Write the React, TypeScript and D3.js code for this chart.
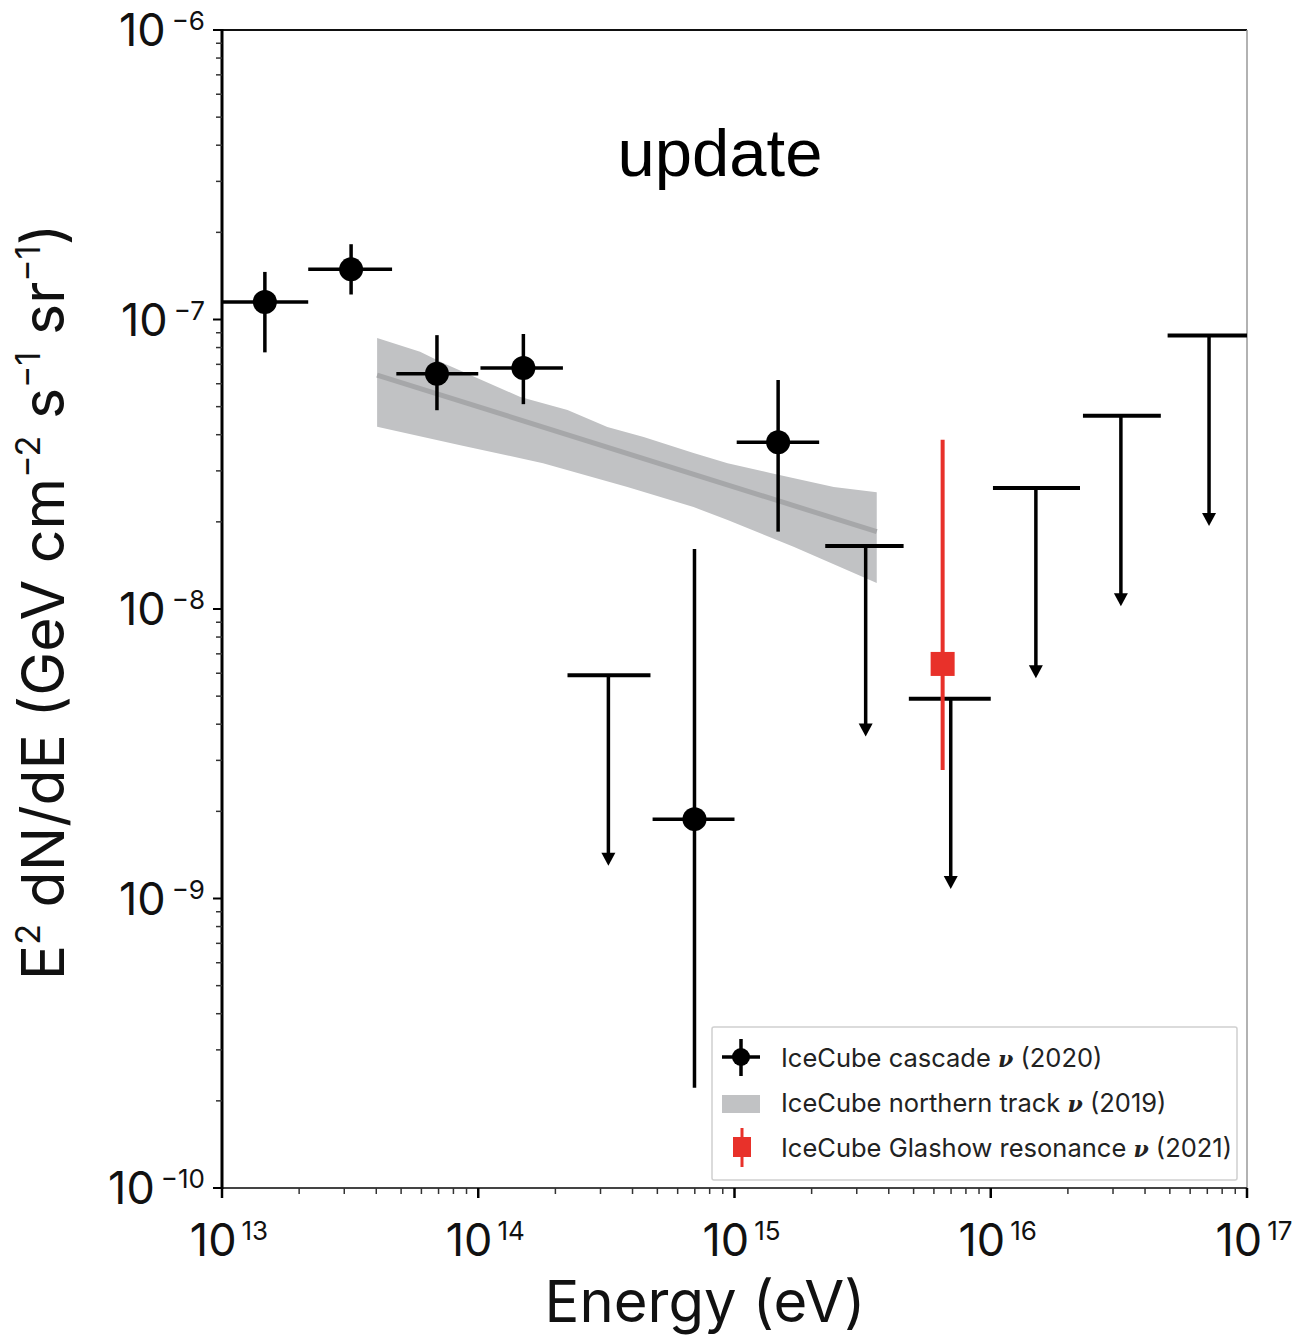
import React from "react";
import * as d3 from "d3";

// ---------- data ----------
const cascadeE = [1.47e13, 3.19e13, 6.9e13, 1.5e14, 6.98e14, 1.48e15];
const cascadeELo = [1.0e13, 2.17e13, 4.79e13, 1.02e14, 4.79e14, 1.02e15];
const cascadeEHi = [2.17e13, 4.61e13, 1.0e14, 2.14e14, 1.0e15, 2.14e15];
const cascadeFlux = [1.15e-7, 1.49e-7, 6.5e-8, 6.8e-8, 1.88e-9, 3.77e-8];
const cascadeFluxLo = [7.7e-8, 1.22e-7, 4.86e-8, 5.1e-8, 2.22e-10, 1.85e-8];
const cascadeFluxHi = [1.46e-7, 1.82e-7, 8.83e-8, 8.91e-8, 1.61e-8, 6.18e-8];

const ulE = [3.22e14, 3.25e15, 6.98e15, 1.5e16, 3.22e16, 7.11e16];
const ulELo = [2.23e14, 2.26e15, 4.79e15, 1.02e16, 2.29e16, 4.9e16];
const ulEHi = [4.7e14, 4.57e15, 1.0e16, 2.23e16, 4.61e16, 1.0e17];
const ulFlux = [5.9e-9, 1.65e-8, 4.9e-9, 2.62e-8, 4.65e-8, 8.8e-8];

const glashowE = [6.49e15];
const glashowFlux = [6.46e-9];
const glashowFluxLo = [2.78e-9];
const glashowFluxHi = [3.84e-8];

const bandUpperE = [4.03e13, 5.93e13, 7.29e13, 1.46e14, 2.23e14, 3.19e14, 4.42e14, 6.92e14, 9.4e14, 1.38e15, 2.44e15, 3.59e15];
const bandUpperFlux = [8.63e-8, 7.73e-8, 7.08e-8, 5.4e-8, 4.87e-8, 4.25e-8, 3.93e-8, 3.46e-8, 3.19e-8, 2.95e-8, 2.64e-8, 2.53e-8];
const bandLowerE = [4.03e13, 8.51e13, 1.79e14, 3.82e14, 6.92e14, 9.4e14, 1.7e15, 3.59e15];
const bandLowerFlux = [4.26e-8, 3.68e-8, 3.19e-8, 2.64e-8, 2.25e-8, 2.03e-8, 1.64e-8, 1.23e-8];
const bestFitE = [4.03e13, 3.59e15];
const bestFitFlux = [6.43e-8, 1.85e-8];

const xTickExps = [13, 14, 15, 16, 17];
const yTickExps = [-6, -7, -8, -9, -10];

const legendLabels = [
  ["IceCube cascade ", "(2020)"],
  ["IceCube northern track ", "(2019)"],
  ["IceCube Glashow resonance ", "(2021)"],
];

// ---------- layout ----------
const W = 1293;
const H = 1338;
const X0 = 222, X1 = 1247, Y0 = 30, Y1 = 1188;
const FONT = "Inter, 'Liberation Sans', Arial, sans-serif";

export default function App() {
  const x = d3.scaleLog().domain([1e13, 1e17]).range([X0, X1]);
  const y = d3.scaleLog().domain([1e-10, 1e-6]).range([Y1, Y0]);

  const minorX: number[] = [];
  for (let e = 13; e < 17; e++) for (let m = 2; m <= 9; m++) minorX.push(m * Math.pow(10, e));
  const minorY: number[] = [];
  for (let e = -10; e < -6; e++) for (let m = 2; m <= 9; m++) minorY.push(m * Math.pow(10, e));

  const bandPts: [number, number][] = [
    ...bandUpperE.map((e, i) => [x(e), y(bandUpperFlux[i])] as [number, number]),
    ...bandLowerE.map((e, i) => [x(e), y(bandLowerFlux[i])] as [number, number]).reverse(),
  ];
  const bandPath = d3.line()(bandPts) + "Z";
  const fitPath = d3.line()(bestFitE.map((e, i) => [x(e), y(bestFitFlux[i])] as [number, number]));

  const arrowFactor = 0.22; // arrow length in log space (style)

  return (
    <svg width={W} height={H} style={{ position: "absolute", left: 0, top: 0, background: "#fff" }}>
      {/* band */}
      <path d={bandPath as string} fill="#c1c2c4" stroke="none" />
      <path d={fitPath as string} fill="none" stroke="#a6a7a9" strokeWidth={5} />

      {/* frame */}
      <line x1={X0} x2={X1} y1={Y0} y2={Y0} stroke="#111" strokeWidth={2} />
      <line x1={X1} x2={X1} y1={Y0} y2={Y1} stroke="#999" strokeWidth={1.5} />
      <line x1={X0} x2={X1} y1={Y1} y2={Y1} stroke="#444" strokeWidth={2} />
      <line x1={X0} x2={X0} y1={Y0 - 1} y2={Y1 + 1} stroke="#000" strokeWidth={3} />

      {/* x ticks */}
      {minorX.map((v, i) => (
        <line key={"mx" + i} x1={x(v)} x2={x(v)} y1={Y1} y2={Y1 + 6} stroke="#333" strokeWidth={1.5} />
      ))}
      {xTickExps.map((e) => (
        <g key={"xt" + e}>
          <line x1={x(Math.pow(10, e))} x2={x(Math.pow(10, e))} y1={Y1} y2={Y1 + 10} stroke="#000" strokeWidth={2.5} />
          <text x={x(Math.pow(10, e)) + 7} y={1256} textAnchor="middle" fontFamily={FONT} fill="#111">
            <tspan fontSize={45}>10</tspan>
            <tspan fontSize={26} dx={5} dy={-16}>{String(e)}</tspan>
          </text>
        </g>
      ))}

      {/* y ticks */}
      {minorY.map((v, i) => (
        <line key={"my" + i} x1={X0 - 6} x2={X0} y1={y(v)} y2={y(v)} stroke="#333" strokeWidth={1.5} />
      ))}
      {yTickExps.map((e) => (
        <g key={"yt" + e}>
          <line x1={X0 - 9} x2={X0} y1={y(Math.pow(10, e))} y2={y(Math.pow(10, e))} stroke="#000" strokeWidth={2} />
          <text x={205} y={y(Math.pow(10, e)) + 16} textAnchor="end" fontFamily={FONT} fill="#111">
            <tspan fontSize={45}>10</tspan>
            <tspan fontSize={26} dx={6} dy={-16}>{"\u2212" + String(-e)}</tspan>
          </text>
        </g>
      ))}

      {/* upper limits */}
      {ulE.map((e, i) => {
        const cx = x(e);
        const cy = y(ulFlux[i]);
        const tip = y(ulFlux[i] * arrowFactor);
        return (
          <g key={"ul" + i}>
            <line x1={x(ulELo[i])} x2={x(ulEHi[i])} y1={cy} y2={cy} stroke="#000" strokeWidth={4} />
            <line x1={cx} x2={cx} y1={cy} y2={tip - 10} stroke="#000" strokeWidth={3.5} />
            <path d={`M${cx - 7},${tip - 13} L${cx + 7},${tip - 13} L${cx},${tip} Z`} fill="#000" />
          </g>
        );
      })}

      {/* cascade points */}
      {cascadeE.map((e, i) => (
        <g key={"c" + i}>
          <line x1={x(cascadeELo[i])} x2={x(cascadeEHi[i])} y1={y(cascadeFlux[i])} y2={y(cascadeFlux[i])} stroke="#000" strokeWidth={3.5} />
          <line x1={x(e)} x2={x(e)} y1={y(cascadeFluxLo[i])} y2={y(cascadeFluxHi[i])} stroke="#000" strokeWidth={3.5} />
          <circle cx={x(e)} cy={y(cascadeFlux[i])} r={12} fill="#000" />
        </g>
      ))}

      {/* glashow */}
      {glashowE.map((e, i) => (
        <g key={"g" + i}>
          <line x1={x(e)} x2={x(e)} y1={y(glashowFluxLo[i])} y2={y(glashowFluxHi[i])} stroke="#e8312a" strokeWidth={4} />
          <rect x={x(e) - 12} y={y(glashowFlux[i]) - 12} width={24} height={24} fill="#e8312a" />
        </g>
      ))}

      {/* update label */}
      <text x={720} y={176} textAnchor="middle" fontFamily="'Liberation Sans', Arial, sans-serif" fontSize={67} fill="#000">update</text>

      {/* legend */}
      <rect x={712} y={1027} width={525} height={153} fill="#fff" fillOpacity={0.9} stroke="#d0d0d0" strokeWidth={1.5} rx={2} />
      <line x1={722} x2={760} y1={1057} y2={1057} stroke="#000" strokeWidth={3.5} />
      <line x1={741} x2={741} y1={1039} y2={1076} stroke="#000" strokeWidth={3.5} />
      <circle cx={741} cy={1057} r={9} fill="#000" />
      <rect x={722} y={1095} width={38} height={18} fill="#c1c2c4" />
      <line x1={742} x2={742} y1={1128} y2={1167} stroke="#e8312a" strokeWidth={3} />
      <rect x={733} y={1137} width={18} height={20} fill="#e8312a" />
      {legendLabels.map((lab, i) => (
        <text key={"lg" + i} x={781} y={1067 + i * 45} fontFamily={FONT} fontSize={25.5} fill="#222">
          {lab[0]}
          <tspan fontFamily="'DejaVu Serif', serif" fontStyle="italic" fontWeight="bold" fontSize={22}>ν</tspan>
          <tspan> {lab[1]}</tspan>
        </text>
      ))}

      {/* axis titles */}
      <text x={705} y={1322} textAnchor="middle" fontFamily={FONT} fontSize={58} fill="#111">Energy (eV)</text>
      <text transform={`translate(64,602) rotate(-90)`} textAnchor="middle" fontFamily={FONT} fontSize={59} fill="#111">
        E<tspan fontSize={34} dy={-24}>2</tspan>
        <tspan dy={24}> dN/dE (GeV cm</tspan>
        <tspan fontSize={34} dy={-24}>{"\u22122"}</tspan>
        <tspan dy={24}> s</tspan>
        <tspan fontSize={34} dy={-24}>{"\u22121"}</tspan>
        <tspan dy={24}> sr</tspan>
        <tspan fontSize={34} dy={-24}>{"\u22121"}</tspan>
        <tspan dy={24}>)</tspan>
      </text>
    </svg>
  );
}
